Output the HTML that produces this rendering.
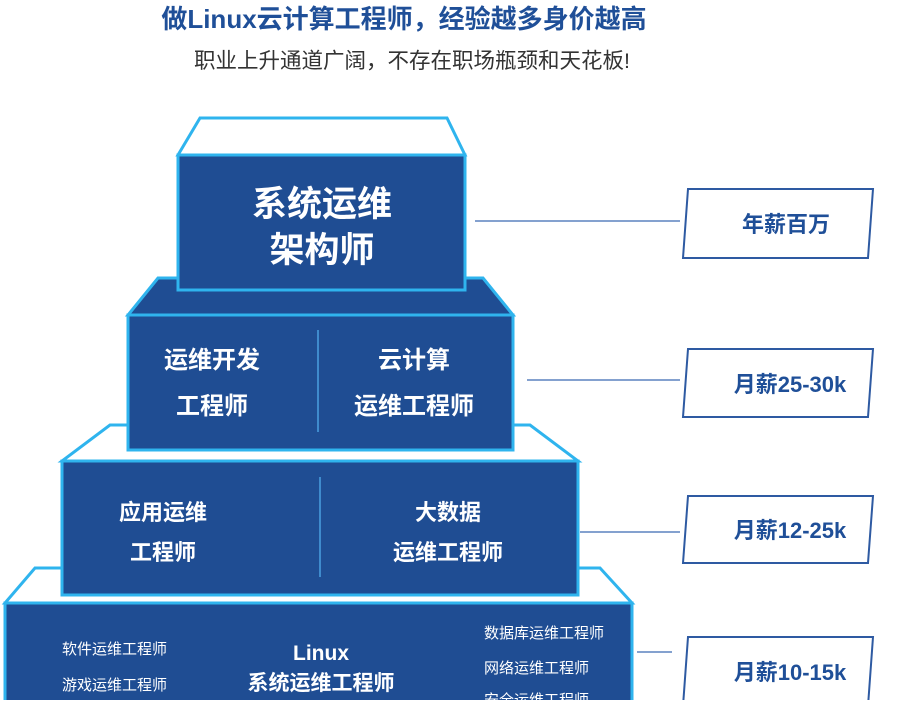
<!DOCTYPE html>
<html><head><meta charset="utf-8"><style>
body{margin:0;width:900px;height:700px;overflow:hidden;background:#fff;font-family:"Liberation Sans","Noto Sans CJK SC",sans-serif;}
</style></head><body>
<svg width="900" height="700" viewBox="0 0 900 700" xmlns="http://www.w3.org/2000/svg" font-family="Liberation Sans, Noto Sans CJK SC, sans-serif">
<text x="404" y="28" text-anchor="middle" font-size="26" font-weight="bold" fill="#1f4f98">做Linux云计算工程师，经验越多身价越高</text>
<text x="412" y="68" text-anchor="middle" font-size="21.5" fill="#333">职业上升通道广阔，不存在职场瓶颈和天花板!</text>

<g stroke="#2fb4ee" stroke-width="3">
<polygon points="35,568 600,568 632,603 5,603" fill="#fff"/>
<rect x="5" y="603" width="627" height="110" fill="#1f4d93"/>
<polygon points="110,425 530,425 578,461 62,461" fill="#fff"/>
<rect x="62" y="461" width="516" height="134" fill="#1f4d93"/>
<polygon points="158,278 483,278 513,315 128,315" fill="#1f4d93"/>
<rect x="128" y="315" width="385" height="135" fill="#1f4d93"/>
<polygon points="200,118 447,118 465,155 178,155" fill="#fff"/>
<rect x="178" y="155" width="287" height="135" fill="#1f4d93"/>
</g>
<line x1="318" y1="330" x2="318" y2="432" stroke="#4aa0e0" stroke-width="1.5"/>
<line x1="320" y1="477" x2="320" y2="577" stroke="#4aa0e0" stroke-width="1.5"/>

<g fill="#fff" font-weight="bold" text-anchor="middle">
<text x="322" y="216" font-size="35">系统运维</text>
<text x="322" y="262" font-size="35">架构师</text>
<text x="212" y="368" font-size="24">运维开发</text>
<text x="212" y="414" font-size="24">工程师</text>
<text x="414" y="368" font-size="24">云计算</text>
<text x="414" y="414" font-size="24">运维工程师</text>
<text x="163" y="520" font-size="22">应用运维</text>
<text x="163" y="560" font-size="22">工程师</text>
<text x="448" y="520" font-size="22">大数据</text>
<text x="448" y="560" font-size="22">运维工程师</text>
<text x="321" y="660" font-size="21">Linux</text>
<text x="321" y="690" font-size="21">系统运维工程师</text>
</g>
<g fill="#fff" font-size="15">
<text x="62" y="654">软件运维工程师</text>
<text x="62" y="690">游戏运维工程师</text>
<text x="484" y="638">数据库运维工程师</text>
<text x="484" y="673">网络运维工程师</text>
<text x="484" y="705">安全运维工程师</text>
</g>

<g stroke="#5c82bf" stroke-width="1.5">
<line x1="475" y1="221" x2="680" y2="221"/>
<line x1="527" y1="380" x2="680" y2="380"/>
<line x1="580" y1="532" x2="680" y2="532"/>
<line x1="637" y1="652" x2="672" y2="652"/>
</g>
<g stroke="#2e5aa2" stroke-width="2" fill="#fff">
<polygon points="688,189 873,189 868,258 683,258"/>
<polygon points="688,349 873,349 868,417 683,417"/>
<polygon points="688,496 873,496 868,563 683,563"/>
<polygon points="688,637 873,637 868,706 683,706"/>
</g>
<g fill="#1f4f98" font-weight="bold" font-size="22" text-anchor="middle">
<text x="786" y="232">年薪百万</text>
<text x="790" y="392">月薪25-30k</text>
<text x="790" y="538">月薪12-25k</text>
<text x="790" y="680">月薪10-15k</text>
</g>
</svg>
</body></html>
